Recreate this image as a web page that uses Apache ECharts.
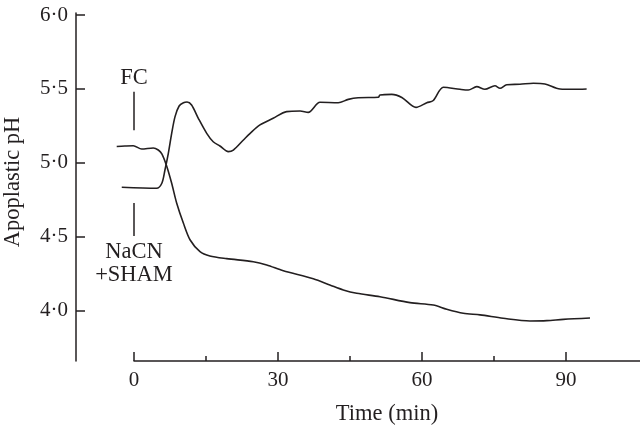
<!DOCTYPE html>
<html>
<head>
<meta charset="utf-8">
<script src="https://cdn.jsdelivr.net/npm/echarts@6/dist/echarts.min.js"></script>
<style>
  html, body { margin: 0; padding: 0; background: #fff; }
  #chart { width: 640px; height: 425px; }
</style>
</head>
<body>
<div id="chart"></div>
<script>
// FC curve: starts ~5.1, falls to ~3.95
const timeFC = [-3.6, -1.9, -0.15, 1.6, 4.0, 5.06, 5.8, 6.8, 7.85, 8.9, 10.3, 11.7, 13.75, 15.8, 19.3, 24.85, 27.65, 31.1, 37.35, 40.8, 43.6, 46.4, 51.25, 57.5, 62.35, 65.15, 68.6, 72.1, 76.9, 82.5, 86.0, 89.45, 95.0];
const phFC = [5.11, 5.113, 5.115, 5.093, 5.10, 5.086, 5.06, 4.978, 4.861, 4.726, 4.59, 4.477, 4.398, 4.369, 4.351, 4.33, 4.308, 4.269, 4.215, 4.173, 4.139, 4.116, 4.093, 4.053, 4.037, 4.008, 3.981, 3.97, 3.947, 3.929, 3.931, 3.94, 3.949];

// NaCN + SHAM curve: starts ~4.83, peaks, then climbs to ~5.5
const timeNaCN = [-2.55, 4.7, 5.8, 6.45, 7.15, 7.85, 8.55, 9.4, 10.3, 11.05, 12.0, 13.4, 15.15, 16.5, 17.9, 19.65, 20.7, 22.8, 24.2, 26.25, 29.0, 31.8, 34.6, 36.3, 38.75, 42.55, 44.65, 46.7, 50.9, 51.25, 53.7, 55.8, 58.75, 61.0, 62.35, 64.45, 67.9, 69.65, 71.4, 73.1, 75.2, 76.25, 77.65, 80.4, 83.2, 85.6, 88.75, 91.5, 94.3];
const phNaCN = [4.834, 4.827, 4.861, 4.951, 5.064, 5.199, 5.312, 5.384, 5.406, 5.411, 5.391, 5.301, 5.199, 5.142, 5.113, 5.075, 5.086, 5.154, 5.199, 5.256, 5.301, 5.346, 5.35, 5.341, 5.409, 5.406, 5.429, 5.44, 5.443, 5.459, 5.463, 5.442, 5.375, 5.406, 5.421, 5.511, 5.497, 5.492, 5.515, 5.497, 5.521, 5.504, 5.528, 5.531, 5.538, 5.533, 5.499, 5.497, 5.499];

// marker lines at time 0
const fcMark = [[0, 5.48], [0, 5.22]];
const nacnMark = [[0, 4.728], [0, 4.504]];

const xMajorTicks = [0, 30, 60, 90];
const xMinorTicks = [15, 45, 75];
const yTicks = [4.0, 4.5, 5.0, 5.5, 6.0];
const yTickLabels = ['4·0', '4·5', '5·0', '5·5', '6·0'];

const ink = '#231f20';
const font = 'Liberation Serif';

// 4.8 px per minute; the time axis line starts at 0, the pH axis sits 58px further left
const xMin = -58 / 4.8;
const xMax = 506 / 4.8;
const yMin = 3.658;
const yMax = 6.0135;

const zip = (xs, ys) => xs.map((x, i) => [x, ys[i]]);

const chart = echarts.init(document.getElementById('chart'));

const option = {
  animation: false,
  textStyle: { fontFamily: font, color: ink },
  grid: [
    { left: 76, right: 0, top: 13, bottom: 64, outerBoundsMode: 'none' },   // data + pH axis
    { left: 134, right: 0, top: 13, bottom: 64, outerBoundsMode: 'none' }   // time axis
  ],
  xAxis: [
    { type: 'value', gridIndex: 0, min: xMin, max: xMax, show: false },
    {
      type: 'value',
      gridIndex: 1,
      min: 0,
      max: xMax,
      position: 'bottom',
      name: 'Time (min)',
      nameLocation: 'middle',
      nameGap: 42,
      nameTextStyle: { fontFamily: font, fontSize: 22.5, color: ink },
      axisLine: { onZero: false, lineStyle: { color: ink, width: 1.5 } },
      axisTick: { inside: true, length: 9, customValues: xMajorTicks, lineStyle: { color: ink, width: 1.5 } },
      axisLabel: { customValues: xMajorTicks, margin: 9, fontFamily: font, fontSize: 21, color: ink },
      splitLine: { show: false }
    },
    {
      type: 'value',
      gridIndex: 1,
      min: 0,
      max: xMax,
      position: 'bottom',
      axisLine: { show: false, onZero: false },
      axisTick: { inside: true, length: 5, customValues: xMinorTicks, lineStyle: { color: ink, width: 1.5 } },
      axisLabel: { show: false },
      splitLine: { show: false }
    }
  ],
  yAxis: [
    {
      type: 'value',
      gridIndex: 0,
      min: yMin,
      max: yMax,
      name: 'Apoplastic pH',
      nameLocation: 'middle',
      nameGap: 51,
      nameTextStyle: { fontFamily: font, fontSize: 22.5, color: ink, padding: [0, 0, 0, 10] },
      axisLine: { show: true, onZero: false, lineStyle: { color: ink, width: 1.5 } },
      axisTick: { show: true, inside: true, length: 9, customValues: yTicks, lineStyle: { color: ink, width: 1.5 } },
      axisLabel: {
        customValues: yTicks,
        margin: 8,
        fontFamily: font,
        fontSize: 21,
        color: ink,
        formatter: v => yTickLabels[yTicks.findIndex(t => Math.abs(t - v) < 1e-6)]
      },
      splitLine: { show: false }
    },
    { type: 'value', gridIndex: 1, min: yMin, max: yMax, show: false }
  ],
  series: [
    {
      name: 'FC',
      type: 'line',
      xAxisIndex: 0,
      yAxisIndex: 0,
      data: zip(timeFC, phFC),
      smooth: 0.3,
      symbol: 'none',
      lineStyle: { color: ink, width: 1.6 }
    },
    {
      name: 'NaCN+SHAM',
      type: 'line',
      xAxisIndex: 0,
      yAxisIndex: 0,
      data: zip(timeNaCN, phNaCN),
      smooth: 0.3,
      symbol: 'none',
      lineStyle: { color: ink, width: 1.6 }
    },
    {
      type: 'line',
      xAxisIndex: 0,
      yAxisIndex: 0,
      data: [
        { value: fcMark[0], label: { show: true, position: 'top', distance: 2, formatter: 'FC' } },
        fcMark[1]
      ],
      symbol: 'circle',
      symbolSize: 0.1,
      showSymbol: true,
      label: { show: false, fontFamily: font, fontSize: 22.5, color: ink },
      lineStyle: { color: ink, width: 1.5 }
    },
    {
      type: 'line',
      xAxisIndex: 0,
      yAxisIndex: 0,
      data: [
        nacnMark[0],
        { value: nacnMark[1], label: { show: true, position: 'bottom', distance: 5, lineHeight: 23, formatter: 'NaCN\n+SHAM' } }
      ],
      symbol: 'circle',
      symbolSize: 0.1,
      showSymbol: true,
      label: { show: false, fontFamily: font, fontSize: 22.5, color: ink },
      lineStyle: { color: ink, width: 1.5 }
    }
  ]
};

chart.setOption(option);
</script>
</body>
</html>
